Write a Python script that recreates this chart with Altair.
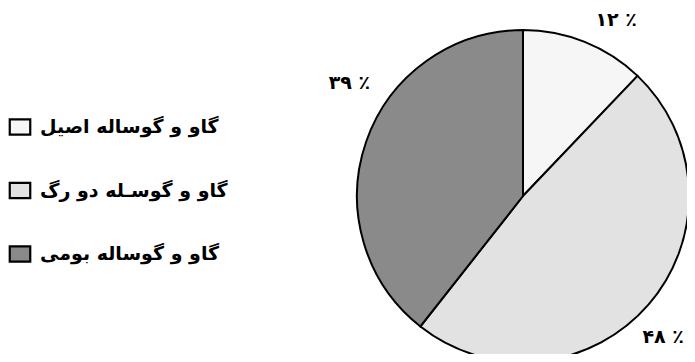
import altair as alt
import pandas as pd

categories = ["گاو و گوساله اصیل", "گاو و گوسـله دو رگ", "گاو و گوساله بومی"]
values = [12, 48, 39]
labels = ["۱۲ ٪", "۴۸ ٪", "۳۹ ٪"]
order = [1, 2, 3]
fills = ["#f6f6f6", "#e2e2e2", "#8a8a8a"]

df = pd.DataFrame({"cat": categories, "value": values, "label": labels, "ord": order})

color = alt.Color("cat:N", scale=alt.Scale(domain=categories, range=fills), legend=None)

base = alt.Chart(df)

pie = base.mark_arc(stroke="black", strokeWidth=2, radius=166).encode(
    theta=alt.Theta("value:Q", stack=True),
    order=alt.Order("ord:Q"),
    color=color,
    x=alt.value(515),
    y=alt.value(188),
)

lab_base = base.transform_window(
    cum="sum(value)", sort=[alt.SortField("ord")], frame=[None, 0]
).transform_calculate(mid="datum.cum - datum.value / 2")


def pct_layer(k, offset, rad):
    return lab_base.transform_filter(alt.datum.ord == k).mark_text(
        font="DejaVu Sans", fontSize=19, fontWeight="bold", color="black",
        thetaOffset=offset, radius=rad, align="center", baseline="middle",
    ).encode(
        theta=alt.Theta("mid:Q", stack=None),
        text="label:N",
        x=alt.value(515),
        y=alt.value(188),
    )


pct = [pct_layer(1, 0.106, 199), pct_layer(2, 0.075, 199), pct_layer(3, 0.243, 207)]

ypos = alt.Y("cat:N", sort=categories, axis=None,
             scale=alt.Scale(type="point", domain=categories, range=[119, 246], padding=0))

leg_sym = base.mark_point(
    shape="M-1,-0.75H1V0.75H-1Z", size=420, filled=True, opacity=1,
    stroke="black", strokeWidth=2.2,
).encode(
    x=alt.value(12),
    y=ypos,
    color=color,
)

leg_txt = base.mark_text(
    font="DejaVu Sans", fontSize=19, fontWeight="bold", align="left", baseline="middle",
    color="black",
).encode(
    x=alt.value(32),
    y=ypos,
    text="cat:N",
)

chart = alt.layer(pie, *pct, leg_sym, leg_txt).properties(
    width=679, height=346, padding=0, autosize="none",
).configure_view(stroke=None)

chart.save("out.html", embed_options={"renderer": "svg", "actions": False})
